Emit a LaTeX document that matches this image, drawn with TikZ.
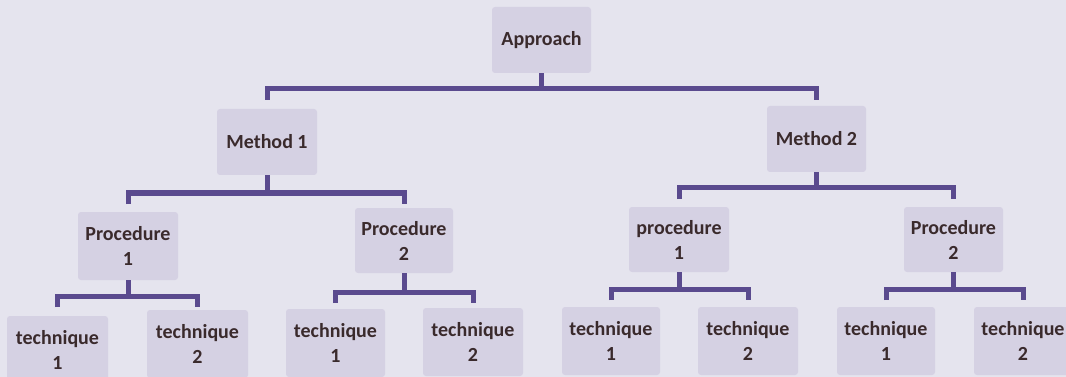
\documentclass[tikz,border=0pt]{standalone}
\usepackage{fontspec}
\setmainfont{Carlito}
\usetikzlibrary{calc}
\definecolor{pagebg}{HTML}{E5E4EE}
\definecolor{boxfill}{HTML}{D5D1E3}
\definecolor{linkcol}{HTML}{5A4A8E}
\definecolor{inkcol}{HTML}{3A2A2C}
\tikzset{
  box/.style={fill=boxfill, rounded corners=3pt, inner sep=0pt, align=center,
    text=inkcol, font=\fontsize{20}{25}\bfseries\selectfont,
    minimum width=100pt, minimum height=66pt},
  link/.style={draw=linkcol, line width=5pt}
}
% parent, left child, right child, y of the bar
\newcommand{\treelink}[4]{%
  \coordinate (barY) at (0,#4);
  \coordinate (hookY) at (0,#4+11);
  \draw[link] (#1.south) -- (#1.south |- barY);
  \draw[link] (#2.north |- hookY) -- (#2.north |- barY) -- (#3.north |- barY) -- (#3.north |- hookY);
}
\begin{document}
\begin{tikzpicture}[x=1pt,y=-1pt]
  \useasboundingbox (0,0) rectangle (1066,377);
  \clip (0,0) rectangle (1066,377);
  \fill[pagebg] (0,0) rectangle (1066,377);

  % root and methods
  \node[box, minimum width=99pt] (root) at (541.5,40) {Approach};
  \node[box] (m1) at (267,142) {Method 1};
  \node[box, minimum width=99pt] (m2) at (816.5,139) {Method 2};

  % procedures
  \node[box, minimum height=68pt] (p11) at (128,246) {Procedure\\1};
  \node[box, minimum width=98pt, minimum height=65pt] (p12) at (404,240.5) {Procedure\\2};
  \node[box, minimum height=65pt] (p21) at (679,239.5) {procedure\\1};
  \node[box, minimum width=99pt, minimum height=65pt] (p22) at (953.5,239.5) {Procedure\\2};

  % techniques
  \node[box, minimum width=101pt, minimum height=68pt] (t111) at (57.5,350) {technique\\1};
  \node[box, minimum width=101pt, minimum height=68pt] (t112) at (197.5,344) {technique\\2};
  \node[box, minimum width=99pt, minimum height=68pt] (t121) at (335.5,343) {technique\\1};
  \node[box, minimum height=68pt] (t122) at (473,342) {technique\\2};
  \node[box, minimum width=98pt, minimum height=68pt] (t211) at (611,341) {technique\\1};
  \node[box, minimum height=68pt] (t212) at (748,341) {technique\\2};
  \node[box, minimum width=98pt, minimum height=68pt] (t221) at (886,341) {technique\\1};
  \node[box, minimum width=98pt, minimum height=68pt] (t222) at (1023,341) {technique\\2};

  % connectors
  \treelink{root}{m1}{m2}{89}
  \treelink{m1}{p11}{p12}{193}
  \treelink{m2}{p21}{p22}{188}
  \treelink{p11}{t111}{t112}{296}
  \treelink{p12}{t121}{t122}{292}
  \treelink{p21}{t211}{t212}{289}
  \treelink{p22}{t221}{t222}{289}
\end{tikzpicture}
\end{document}
